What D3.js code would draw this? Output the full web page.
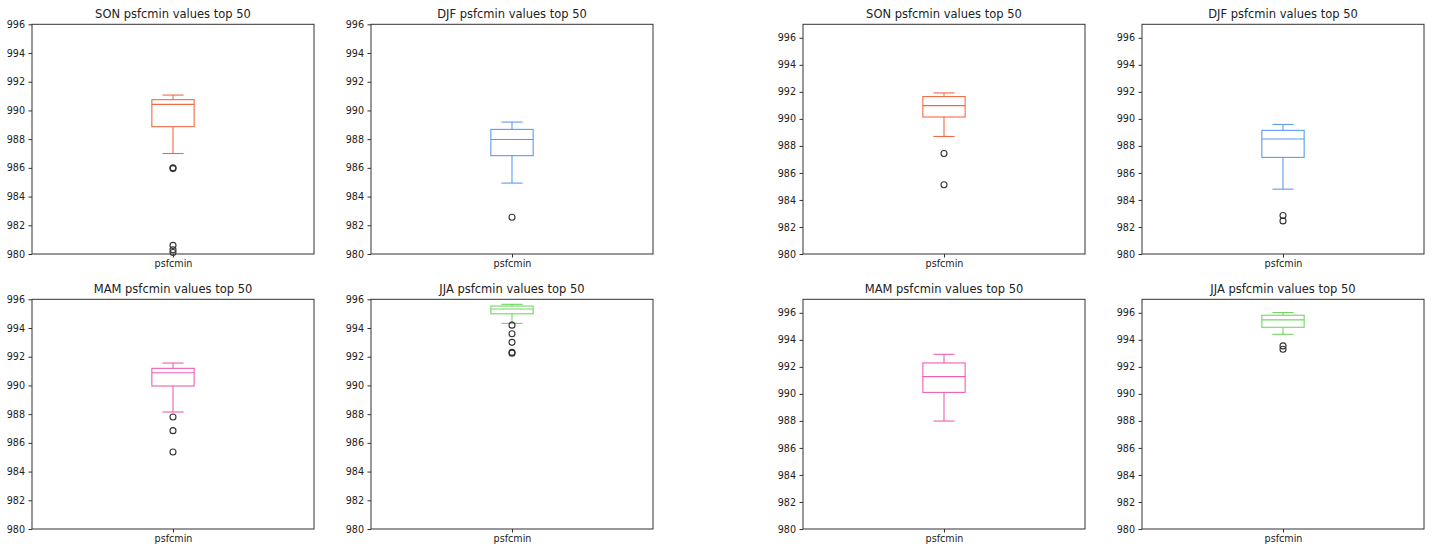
<!DOCTYPE html>
<html>
<head>
<meta charset="utf-8">
<script src="https://cdn.jsdelivr.net/npm/d3@7"></script>
<style>
    body { margin: 0; background: #fff; }
    svg { display: block; font-family: "DejaVu Sans", sans-serif; }
</style>
</head>
<body>
<svg width="1433" height="550"></svg>
<script>
const seasons = ["SON", "DJF", "MAM", "JJA"];
const category = "psfcmin";
const yTicks = [980, 982, 984, 986, 988, 990, 992, 994, 996];

// first run (left block)
const leftLow = [987.0, 984.94, 988.15, 994.32];
const leftQ1 = [988.87, 986.85, 989.96, 994.99];
const leftMedian = [990.42, 987.98, 990.88, 995.32];
const leftQ3 = [990.75, 988.68, 991.19, 995.53];
const leftHigh = [991.07, 989.19, 991.56, 995.65];
const leftOutliers = [
    [986.0, 985.95, 980.6, 980.3, 980.1],
    [982.56],
    [987.8, 986.85, 985.36],
    [994.2, 993.6, 993.0, 992.3, 992.25]
];

// second run (right block)
const rightLow = [988.7, 984.8, 987.99, 994.41];
const rightQ1 = [990.14, 987.15, 990.11, 994.93];
const rightMedian = [990.98, 988.51, 991.28, 995.48];
const rightQ3 = [991.65, 989.15, 992.29, 995.82];
const rightHigh = [991.92, 989.59, 992.93, 996.02];
const rightOutliers = [
    [987.44, 985.12],
    [982.85, 982.45],
    [],
    [993.55, 993.3]
];

const colors = ["#f26a45", "#5b9cf2", "#ee5fb0", "#72d663"];

const svg = d3.select("svg");
const panelW = 282;
const panelH = 229.7;

const blocks = [
    { xs: [32, 371], yMax: 996, low: leftLow, q1: leftQ1, med: leftMedian, q3: leftQ3, high: leftHigh, out: leftOutliers },
    { xs: [803, 1142], yMax: 997, low: rightLow, q1: rightQ1, med: rightMedian, q3: rightQ3, high: rightHigh, out: rightOutliers }
];
const rowsY = [24.3, 299.3];

blocks.forEach(block => {
    seasons.forEach((season, i) => {
        const left = block.xs[i % 2];
        const top = rowsY[Math.floor(i / 2)];

        const x = d3.scaleLinear().domain([0.5, 1.5]).range([0, panelW]);
        const y = d3.scaleLinear().domain([980, block.yMax]).range([panelH, 0]);

        const g = svg.append("g").attr("transform", `translate(${left},${top})`);

        // box plot
        const c = colors[i];
        const bw = 0.15, cw = 0.075;
        const box = g.append("g")
            .attr("fill", "none")
            .attr("stroke", c)
            .attr("stroke-width", 1.1);

        box.append("rect")
            .attr("x", x(1 - bw / 2))
            .attr("y", y(block.q3[i]))
            .attr("width", x(1 + bw / 2) - x(1 - bw / 2))
            .attr("height", y(block.q1[i]) - y(block.q3[i]));

        box.append("line")
            .attr("x1", x(1 - bw / 2)).attr("x2", x(1 + bw / 2))
            .attr("y1", y(block.med[i])).attr("y2", y(block.med[i]));

        // whiskers and caps
        [[block.q3[i], block.high[i]], [block.q1[i], block.low[i]]].forEach(([from, to]) => {
            box.append("line")
                .attr("x1", x(1)).attr("x2", x(1))
                .attr("y1", y(from)).attr("y2", y(to));
            box.append("line")
                .attr("x1", x(1 - cw / 2)).attr("x2", x(1 + cw / 2))
                .attr("y1", y(to)).attr("y2", y(to));
        });

        g.append("g")
            .selectAll("circle")
            .data(block.out[i])
            .join("circle")
            .attr("cx", x(1))
            .attr("cy", d => y(d))
            .attr("r", 3)
            .attr("fill", "none")
            .attr("stroke", "#333")
            .attr("stroke-width", 1.1);

        // axes
        const yAxis = g.append("g")
            .call(d3.axisLeft(y).tickValues(yTicks).tickFormat(d3.format("d")).tickSize(3.5).tickPadding(3.5));
        const xAxis = g.append("g")
            .attr("transform", `translate(0,${panelH})`)
            .call(d3.axisBottom(x).tickValues([1]).tickFormat(() => category).tickSize(3.5).tickPadding(3));

        [yAxis, xAxis].forEach(a => {
            a.select(".domain").remove();
            a.selectAll("line").attr("stroke", "#333");
            a.selectAll("text")
                .attr("fill", "#222")
                .style("font-size", "9.6px")
                .style("font-family", "DejaVu Sans");
        });

        g.append("rect")
            .attr("width", panelW)
            .attr("height", panelH)
            .attr("fill", "none")
            .attr("stroke", "#333")
            .attr("stroke-width", 1);

        g.append("text")
            .attr("x", panelW / 2)
            .attr("y", -6)
            .attr("text-anchor", "middle")
            .attr("fill", "#222")
            .style("font-size", "11.5px")
            .text(`${season} ${category} values top 50`);
    });
});
</script>
</body>
</html>
